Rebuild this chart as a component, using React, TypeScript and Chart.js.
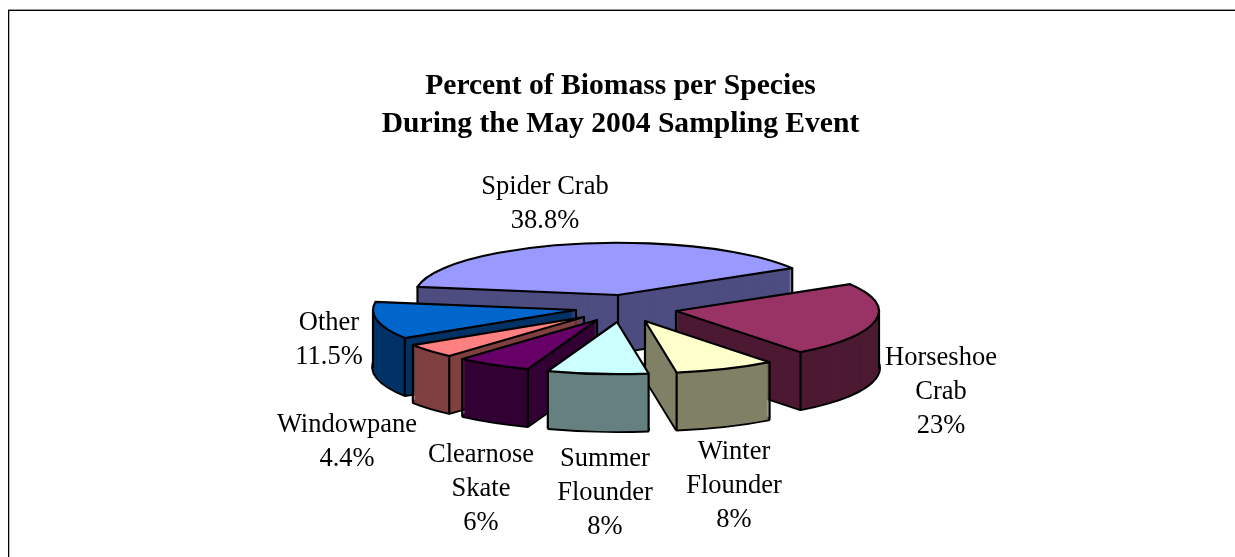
import React, { useEffect, useRef } from "react";
import { Chart, registerables } from "chart.js";

Chart.register(...registerables);

const species = ["Spider Crab", "Horseshoe Crab", "Winter Flounder", "Summer Flounder", "Clearnose Skate", "Windowpane", "Other"];
const percent = [38.8, 23, 8, 8, 6, 4.4, 11.5];
const percentLabels = ["38.8%", "23%", "8%", "8%", "6%", "4.4%", "11.5%"];
const titleLines = ["Percent of Biomass per Species", "During the May 2004 Sampling Event"];
const topColors = ["#9999FF", "#993366", "#FFFFCC", "#CCFFFF", "#660066", "#FF8080", "#0066CC"];
const wallColors = ["#4D4D80", "#4D1A33", "#808066", "#668080", "#330033", "#804040", "#003366"];

// Label layout: wrapped name lines and anchor (centre x, first-line y)
const labelLines = [["Spider Crab"], ["Horseshoe", "Crab"], ["Winter", "Flounder"], ["Summer", "Flounder"], ["Clearnose", "Skate"], ["Windowpane"], ["Other"]];
const labelX = [545, 941, 734, 605, 481, 347, 329];
const labelY = [187, 358, 452, 459, 455, 425, 323];
const labelStep = 34;

// 3D projection settings
const centerX = 618;
const centerY = 295;
const tilt = 0.257;
const depth = 57;
const pieRadius = 203;
const explodeX = [0, 58, 27, -1, -21, -34, -42];
const explodeY = [0, 16, 26, 27, 25, 22, 15];

const TAU = Math.PI * 2;
const norm = (a: number) => ((a % TAU) + TAU) % TAU;
const contains = (s: number, e: number, a: number) => norm(a - s) <= norm(e - s);

const pie3d = {
  id: "pie3d",
  beforeDatasetsDraw(chart: any) {
    const ctx = chart.ctx;
    const arcs: any[] = chart.getDatasetMeta(0).data;
    const project = (i: number, lift: number) => {
      const a = arcs[i];
      ctx.translate(centerX + explodeX[i], centerY + explodeY[i] + lift);
      ctx.scale(1, tilt);
      ctx.translate(-a.x, -a.y);
    };
    const drawFill = (i: number, lift: number, color: string) => {
      const a = arcs[i];
      const copy = Object.create(a);
      copy.options = { ...a.options, backgroundColor: color, borderWidth: 0, offset: 0, spacing: 0 };
      ctx.save();
      project(i, lift);
      copy.draw(ctx);
      ctx.restore();
    };
    const strokeSector = (i: number, lift: number, width: number, join: CanvasLineJoin) => {
      const a = arcs[i];
      ctx.save();
      ctx.beginPath();
      ctx.save();
      project(i, lift);
      ctx.moveTo(a.x, a.y);
      ctx.arc(a.x, a.y, a.outerRadius, a.startAngle, a.endAngle);
      ctx.closePath();
      ctx.restore();
      ctx.strokeStyle = "#000";
      ctx.lineWidth = width;
      ctx.lineJoin = join;
      ctx.stroke();
      ctx.restore();
    };
    const vertical = (i: number, angle: number | null) => {
      const a = arcs[i];
      const r = angle === null ? 0 : a.outerRadius;
      const x = centerX + explodeX[i] + (angle === null ? 0 : Math.cos(angle) * r);
      const y = centerY + explodeY[i] + (angle === null ? 0 : Math.sin(angle) * r * tilt);
      ctx.save();
      ctx.beginPath();
      ctx.moveTo(x, y);
      ctx.lineTo(x, y + depth);
      ctx.strokeStyle = "#000";
      ctx.lineWidth = 2.2;
      ctx.lineCap = "round";
      ctx.stroke();
      ctx.restore();
    };

    const order = arcs
      .map((a, i) => ({ i, score: Math.abs(norm((a.startAngle + a.endAngle) / 2) - Math.PI / 2) }))
      .map((o) => ({ i: o.i, score: Math.min(o.score, TAU - o.score) }))
      .sort((p, q) => q.score - p.score)
      .map((o) => o.i);

    for (const i of order) {
      const a = arcs[i];
      const s = a.startAngle;
      const e = a.endAngle;
      strokeSector(i, depth, 3.8, "bevel");
      for (let d = depth; d >= 0; d--) drawFill(i, d, wallColors[i]);
      const hasRight = contains(s, e, 0);
      const hasLeft = contains(s, e, Math.PI);
      const spansSide = hasRight || hasLeft;
      if (hasRight) vertical(i, 0);
      if (hasLeft) vertical(i, Math.PI);
      for (const corner of [s, e]) {
        if (Math.sin(corner) >= 0 || !spansSide) vertical(i, corner);
      }
      if (!contains(s, e, Math.PI / 2)) vertical(i, null);
      drawFill(i, 0, topColors[i]);
      strokeSector(i, 0, 2.2, "round");
    }

    ctx.save();
    ctx.fillStyle = "#000";
    ctx.font = '26.5px "Liberation Serif"';
    ctx.textAlign = "center";
    ctx.textBaseline = "middle";
    species.forEach((_, i) => {
      const lines = [...labelLines[i], percentLabels[i]];
      lines.forEach((line, j) => ctx.fillText(line, labelX[i], labelY[i] + j * labelStep));
    });
    ctx.restore();
    return false;
  },
};

export default function App() {
  const ref = useRef<HTMLCanvasElement>(null);
  useEffect(() => {
    const chart = new Chart(ref.current as HTMLCanvasElement, {
      type: "pie",
      data: {
        labels: species,
        datasets: [{ data: percent, backgroundColor: topColors, borderWidth: 0 }],
      },
      options: {
        animation: false,
        responsive: false,
        rotation: 279,
        radius: pieRadius,
        layout: { padding: { left: 6, top: 67, bottom: 0, right: 0 } },
        plugins: {
          legend: { display: false },
          tooltip: { enabled: false },
          title: {
            display: true,
            text: titleLines,
            color: "#000",
            font: { family: '"Liberation Serif"', size: 29.6, weight: "bold", lineHeight: 1.284 },
            padding: { top: 0, bottom: 8 },
          },
        },
      },
      plugins: [pie3d],
    } as any);
    return () => chart.destroy();
  }, []);
  return (
    <div style={{ position: "fixed", left: 0, top: 0, width: 1235, height: 557, background: "#fff", overflow: "hidden" }}>
      <div style={{ position: "absolute", left: 8, top: 9, right: 0, height: 1, background: "#999" }} />
      <div style={{ position: "absolute", left: 8, top: 10, right: 0, height: 1, background: "#000" }} />
      <div style={{ position: "absolute", left: 8, top: 10, width: 1, bottom: 0, background: "#000" }} />
      <div style={{ position: "absolute", left: 9, top: 11, width: 1, bottom: 0, background: "#bbb" }} />
      <canvas ref={ref} width={1235} height={557} style={{ position: "absolute", left: 0, top: 0, display: "block" }} />
    </div>
  );
}
